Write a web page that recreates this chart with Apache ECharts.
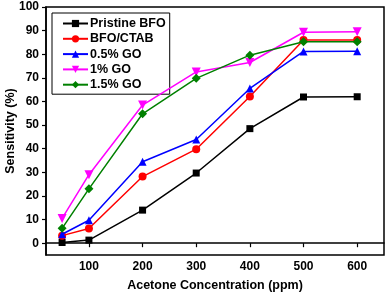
<!DOCTYPE html>
<html><head><meta charset="utf-8">
<script src="https://cdn.jsdelivr.net/npm/echarts@6/dist/echarts.min.js"></script>
<style>html,body{margin:0;padding:0;background:#fff}#c{width:387px;height:295px}</style>
</head><body><div id="c"></div>
<script>
const concentrations = [50, 100, 200, 300, 400, 500, 600];
const xTicks = [100, 200, 300, 400, 500, 600];
const yTicks = [0, 10, 20, 30, 40, 50, 60, 70, 80, 90, 100];
const seriesNames = ['Pristine BFO', 'BFO/CTAB', '0.5% GO', '1% GO', '1.5% GO'];
const pristineBFO = [0.3, 1.3, 14, 29.7, 48.5, 61.9, 62];
const bfoCTAB = [3.2, 6.2, 28.2, 39.8, 62.1, 86, 86];
const go05 = [3.8, 9.7, 34.5, 43.9, 65.5, 81.2, 81.3];
const go1 = [10.5, 29, 58.5, 72.5, 76.5, 89.3, 89.5];
const go15 = [6.3, 23, 54.8, 69.8, 79.6, 85.3, 85.3];

const values = [pristineBFO, bfoCTAB, go05, go1, go15];
const colors = ['#000000', '#ff0000', '#0000ff', '#ff00ff', '#008000'];
const symbols = ['rect', 'circle', 'triangle', 'path://M0,0 L10,0 L5,9 Z', 'diamond'];
const sizes = [7, 8, 8, 9, 9];
const FONT = 'Liberation Sans, Arial, sans-serif';

const chart = echarts.init(document.getElementById('c'), null, {renderer: 'canvas'});
chart.setOption({
  animation: false,
  backgroundColor: '#fff',
  grid: {left: 46, top: 7, right: 3, bottom: 40, outerBoundsMode: 'none', containLabel: false,
         show: true, borderColor: '#000', borderWidth: 1.5, backgroundColor: 'transparent'},
  legend: {
    orient: 'vertical', left: 52, top: 13,
    data: seriesNames,
    itemWidth: 25, itemHeight: 9, itemGap: 2.3,
    padding: [4, 4, 3, 10],
    borderColor: '#000', borderWidth: 1,
    textStyle: {fontFamily: FONT, fontWeight: 'bold', fontSize: 12.5, lineHeight: 12, color: '#000', padding: [0, 0, 0, -3]}
  },
  xAxis: {
    type: 'value', min: 20, max: 650,
    name: 'Acetone Concentration (ppm)', nameLocation: 'middle', nameGap: 24, nameMoveOverlap: false,
    nameTextStyle: {fontFamily: FONT, fontWeight: 'bold', fontSize: 12.5, color: '#000'},
    axisLine: {show: true, lineStyle: {color: '#000', width: 1.5}},
    axisTick: {show: true, customValues: xTicks, length: 4, lineStyle: {color: '#000', width: 1.2}},
    axisLabel: {customValues: xTicks, fontFamily: FONT, fontWeight: 'bold', fontSize: 12, color: '#000', margin: 6},
    splitLine: {show: false}
  },
  yAxis: {
    type: 'value', min: -5, max: 100,
    name: 'Sensitivity (%)', nameLocation: 'middle', nameGap: 29, nameMoveOverlap: false,
    nameTextStyle: {fontFamily: FONT, fontWeight: 'bold', fontSize: 12.5, color: '#000'},
    axisLine: {show: true, lineStyle: {color: '#000', width: 1.5}},
    axisTick: {show: true, customValues: yTicks, length: 4, lineStyle: {color: '#000', width: 1.2}},
    axisLabel: {customValues: yTicks, fontFamily: FONT, fontWeight: 'bold', fontSize: 12, color: '#000', margin: 7},
    splitLine: {show: false}
  },
  series: seriesNames.map((n, i) => ({
    name: n, type: 'line',
    data: concentrations.map((x, j) => [x, values[i][j]]),
    symbol: symbols[i], symbolSize: sizes[i],
    itemStyle: {color: colors[i]},
    lineStyle: {color: colors[i], width: 1.5},
    z: 2 + i
  }))
});
</script></body></html>
